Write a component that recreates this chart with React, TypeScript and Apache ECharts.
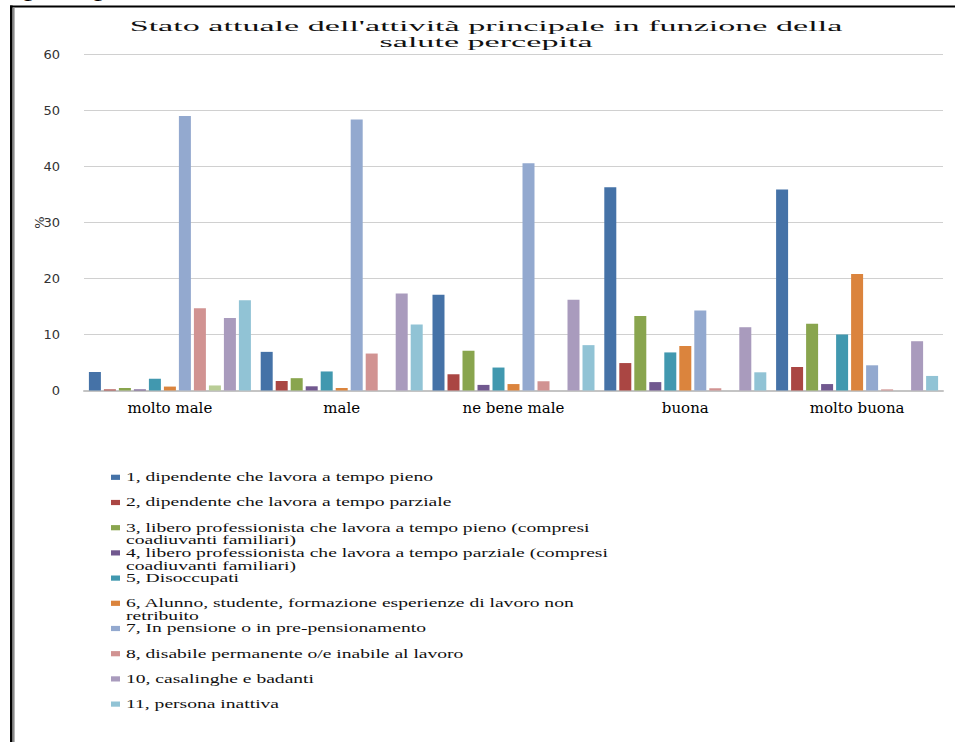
import React, { useEffect, useRef } from "react";
import * as echarts from "echarts";

// Perceived health categories (x axis)
const categories = ["molto male", "male", "ne bene male", "buona", "molto buona"];

// Current main activity, one series per activity code (%)
const seriesNames = [
  "1, dipendente che lavora a tempo pieno",
  "2, dipendente che lavora a tempo parziale",
  "3, libero professionista che lavora a tempo pieno (compresi coadiuvanti familiari)",
  "4, libero professionista che lavora a tempo parziale (compresi coadiuvanti familiari)",
  "5, Disoccupati",
  "6, Alunno, studente, formazione esperienze di lavoro non retribuito",
  "7, In pensione o in pre-pensionamento",
  "8, disabile permanente o/e inabile al lavoro",
  "9",
  "10, casalinghe e badanti",
  "11, persona inattiva",
];

const s1 = [3.3, 6.9, 17.1, 36.3, 35.9];
const s2 = [0.2, 1.7, 2.9, 4.9, 4.2];
const s3 = [0.45, 2.2, 7.1, 13.3, 11.9];
const s4 = [0.2, 0.75, 1.0, 1.5, 1.15];
const s5 = [2.1, 3.4, 4.1, 6.8, 10.0];
const s6 = [0.7, 0.45, 1.15, 7.95, 20.8];
const s7 = [49.0, 48.4, 40.6, 14.3, 4.5];
const s8 = [14.7, 6.6, 1.65, 0.4, 0.2];
const s9 = [0.9, null, null, null, null];
const s10 = [12.95, 17.3, 16.2, 11.3, 8.8];
const s11 = [16.1, 11.8, 8.1, 3.25, 2.6];

const seriesValues = [s1, s2, s3, s4, s5, s6, s7, s8, s9, s10, s11];

const seriesColors = [
  "#4572A7",
  "#AA4643",
  "#89A54E",
  "#71588F",
  "#4198AF",
  "#DB843D",
  "#93A9CF",
  "#D19392",
  "#B9CD96",
  "#A99BBD",
  "#91C3D5",
];

// Series shown in the key (code 9 has no entry)
const legendSeries = [0, 1, 2, 3, 4, 5, 6, 7, 9, 10];

const yTicks = { min: 0, max: 60, interval: 10 };

const titleLines = [
  "Stato attuale dell'attività principale in funzione della",
  "salute percepita",
];

const measureWidth = (text: string, font: string): number => {
  const ctx = document.createElement("canvas").getContext("2d");
  if (!ctx) return text.length * 6;
  ctx.font = font;
  return ctx.measureText(text).width;
};

const wrapWords = (text: string, font: string, scale: number, maxWidth: number): string[] => {
  const words = text.split(" ");
  const lines: string[] = [];
  let current = "";
  for (const w of words) {
    const candidate = current ? current + " " + w : w;
    if (current && measureWidth(candidate, font) * scale > maxWidth) {
      lines.push(current);
      current = w;
    } else {
      current = candidate;
    }
  }
  if (current) lines.push(current);
  return lines;
};

export default function App() {
  const ref = useRef<HTMLDivElement>(null);

  useEffect(() => {
    if (!ref.current) return;
    const chart = echarts.init(ref.current, null, { renderer: "svg" });

    const serif = "Liberation Serif";

    // Title: wide, letter-spaced serif look
    const titleSize = 15;
    const titleFont = `${titleSize}px "${serif}"`;
    const titleScale = 713 / measureWidth(titleLines[0], titleFont);
    const titleCenterX = 486;
    const titleY = [26, 42.3];

    const graphics: any[] = [];

    // tail of the page text that runs above the chart frame
    graphics.push({
      type: "text",
      x: 24,
      y: -9,
      scaleX: 1.8,
      style: {
        text: "percepita",
        fontFamily: serif,
        fontSize: 18,
        fill: "#000",
        textAlign: "left",
        textVerticalAlign: "middle",
      },
    });

    titleLines.forEach((line, i) => {
      graphics.push({
        type: "text",
        x: titleCenterX,
        y: titleY[i],
        scaleX: titleScale,
        style: {
          text: line,
          fontFamily: serif,
          fontSize: titleSize,
          fill: "#111",
          textAlign: "center",
          textVerticalAlign: "middle",
        },
      });
    });

    // Key
    const legendSize = 11.5;
    const legendFont = `${legendSize}px "${serif}"`;
    const legendScale = 307 / measureWidth(seriesNames[0], legendFont);
    const legendTop = 477.3;
    const legendPitch = 25.2;
    const legendLineGap = 12.7;
    const legendSymbolX = 111;
    const legendTextX = 126;

    legendSeries.forEach((si, i) => {
      const cy = legendTop + i * legendPitch;
      graphics.push({
        type: "rect",
        shape: { x: legendSymbolX, y: cy - 2.6, width: 9, height: 5.2 },
        style: { fill: seriesColors[si] },
      });
      const lines = wrapWords(seriesNames[si], legendFont, legendScale, 505);
      lines.forEach((ln, k) => {
        graphics.push({
          type: "text",
          x: legendTextX,
          y: cy + k * legendLineGap,
          scaleX: legendScale,
          style: {
            text: ln,
            fontFamily: serif,
            fontSize: legendSize,
            fill: "#111",
            textAlign: "left",
            textVerticalAlign: "middle",
          },
        });
      });
    });

    // Frame around the chart object
    graphics.push(
      {
        type: "line",
        shape: { x1: 10, y1: 6.5, x2: 955, y2: 6.5 },
        style: { stroke: "#000", lineWidth: 2 },
      },
      {
        type: "line",
        shape: { x1: 11.3, y1: 5.5, x2: 11.3, y2: 742 },
        style: { stroke: "#000", lineWidth: 2.6 },
      },
      {
        type: "line",
        shape: { x1: 13.6, y1: 7.5, x2: 13.6, y2: 742 },
        style: { stroke: "#8a8a8a", lineWidth: 2 },
      }
    );

    chart.setOption({
      animation: false,
      backgroundColor: "#ffffff",
      grid: { left: 84, right: 12, top: 54.5, bottom: 351.5, containLabel: false },
      xAxis: {
        type: "category",
        data: categories,
        axisTick: { show: false },
        axisLine: { lineStyle: { color: "#c4c4c4", width: 2 } },
        axisLabel: {
          fontFamily: "DejaVu Serif",
          fontSize: 15,
          color: "#000",
          margin: 10,
        },
      },
      yAxis: {
        type: "value",
        min: yTicks.min,
        max: yTicks.max,
        interval: yTicks.interval,
        name: "%",
        nameLocation: "middle",
        nameRotate: 90,
        nameGap: 38,
        nameMoveOverlap: false,
        nameTextStyle: { fontFamily: "DejaVu Sans", fontSize: 13, color: "#333" },
        axisLine: { show: false },
        axisTick: { show: false },
        axisLabel: {
          fontFamily: "DejaVu Sans",
          fontSize: 13,
          color: "#333",
          margin: 24,
        },
        splitLine: { lineStyle: { color: "#d0d0d0", width: 1 } },
      },
      series: seriesNames.map((name, i) => ({
        name,
        type: "bar",
        data: seriesValues[i],
        barGap: "25%",
        barCategoryGap: "5.7%",
        itemStyle: { color: seriesColors[i] },
      })),
      graphic: graphics,
    });

    return () => chart.dispose();
  }, []);

  return (
    <div
      ref={ref}
      style={{
        position: "fixed",
        left: 0,
        top: 0,
        width: 955,
        height: 742,
        background: "#fff",
      }}
    />
  );
}
